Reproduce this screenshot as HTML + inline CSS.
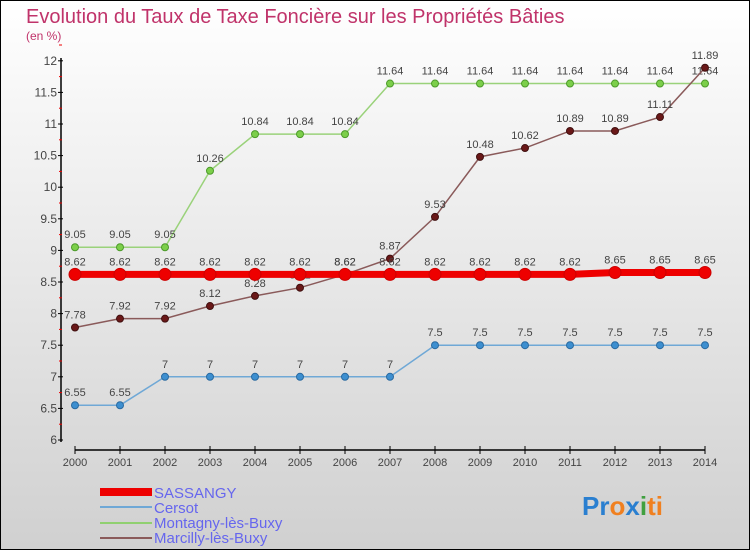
<!DOCTYPE html>
<html><head><meta charset="utf-8"><style>
body{margin:0;width:750px;height:550px;overflow:hidden;font-family:"Liberation Sans",sans-serif}
svg{display:block}
</style></head><body>
<svg id="c" width="750" height="550">
<defs><linearGradient id="bg" x1="0" y1="0" x2="0" y2="1"><stop offset="0" stop-color="#ffffff"/><stop offset="1" stop-color="#d0d0d0"/></linearGradient></defs>
<rect x="0.5" y="0.5" width="749" height="549" fill="url(#bg)" stroke="#000"/>
<text x="26" y="23" font-size="20" fill="#c0336a">Evolution du Taux de Taxe Foncière sur les Propriétés Bâties</text>
<text x="26" y="40" font-size="12" fill="#c0336a">(en %)</text>
<g id="axes"></g><g id="series"></g>
<g>
<rect x="100" y="488" width="52" height="8" fill="#e00"/>
<text x="154" y="498" font-size="15" fill="#6666ee">SASSANGY</text>
<rect x="100" y="506" width="52" height="2" fill="#6fa8d6"/>
<text x="154" y="513" font-size="15" fill="#6666ee">Cersot</text>
<rect x="100" y="522" width="52" height="2" fill="#90d070"/>
<text x="154" y="528" font-size="15" fill="#6666ee">Montagny-lès-Buxy</text>
<rect x="100" y="537" width="52" height="2" fill="#8a5a5a"/>
<text x="154" y="543" font-size="15" fill="#6666ee">Marcilly-lès-Buxy</text>
</g>
<text x="582" y="515" font-size="26" font-weight="bold"><tspan fill="#2a7fd0">Pr</tspan><tspan fill="#f08020">o</tspan><tspan fill="#2a7fd0">x</tspan><tspan fill="#40a040">i</tspan><tspan fill="#f08020">ti</tspan></text>
</svg>
<script>
const years=[2000,2001,2002,2003,2004,2005,2006,2007,2008,2009,2010,2011,2012,2013,2014];
const sassangy=[8.62,8.62,8.62,8.62,8.62,8.62,8.62,8.62,8.62,8.62,8.62,8.62,8.65,8.65,8.65];
const cersot=[6.55,6.55,7,7,7,7,7,7,7.5,7.5,7.5,7.5,7.5,7.5,7.5];
const montagny=[9.05,9.05,9.05,10.26,10.84,10.84,10.84,11.64,11.64,11.64,11.64,11.64,11.64,11.64,11.64];
const marcilly=[7.78,7.92,7.92,8.12,8.28,8.41,8.62,8.87,9.53,10.48,10.62,10.89,10.89,11.11,11.89];
const yTicks=[6,6.5,7,7.5,8,8.5,9,9.5,10,10.5,11,11.5,12];
const NS="http://www.w3.org/2000/svg";
const X=i=>75+i*45, Y=v=>440-(v-6)*63.2;
function mk(t,a,p){const e=document.createElementNS(NS,t);for(const k in a)e.setAttribute(k,a[k]);p.appendChild(e);return e;}
const ax=document.getElementById('axes');
const ya=mk('line',{x1:61,y1:58,x2:61,y2:442,stroke:'#000','stroke-width':1.5},ax);

const xa=mk('line',{x1:75,y1:450,x2:705,y2:450,stroke:'#000','stroke-width':1.5},ax);

yTicks.forEach(v=>{
 mk('line',{x1:58,x2:63,y1:Y(v),y2:Y(v),stroke:'#000'},ax);
 mk('line',{x1:59,x2:62,y1:Y(v+0.25),y2:Y(v+0.25),stroke:'#e00'},ax);
 const t=mk('text',{x:57,y:Y(v)+4,'text-anchor':'end','font-size':12,fill:'#444'},ax);t.textContent=v;
 
});
years.forEach((y,i)=>{
 mk('line',{x1:X(i),x2:X(i),y1:446,y2:454,stroke:'#000'},ax);
 const t=mk('text',{x:X(i),y:466,'text-anchor':'middle','font-size':11,fill:'#444'},ax);t.textContent=y;
 
});
const sg=document.getElementById('series');
function series(name,vals,col,w,r,fill,stroke){
 const g=mk('g',{},sg);
 
 mk('polyline',{points:vals.map((v,i)=>X(i)+','+Y(v)).join(' '),fill:'none',stroke:col,'stroke-width':w},g);
 vals.forEach((v,i)=>{
  const c=mk('circle',{cx:X(i),cy:Y(v),r:r,fill:fill,stroke:stroke},g);
  
  const t=mk('text',{x:X(i),y:Y(v)-9,'text-anchor':'middle','font-size':11,fill:'#444'},g);t.textContent=v;
  
 });
}
series('cersot',cersot,'#6fa8d6',1.5,3.5,'#3d8fd0','#2a6aa0');
series('montagny',montagny,'#9ad27a',1.5,3.5,'#7ccf4a','#4c9a2a');
series('marcilly',marcilly,'#8a5a5a',1.5,3.5,'#6a1818','#401010');
series('sassangy',sassangy,'#ee0000',7,6,'#ee0000','#cc0000');
</script>
</body></html>
